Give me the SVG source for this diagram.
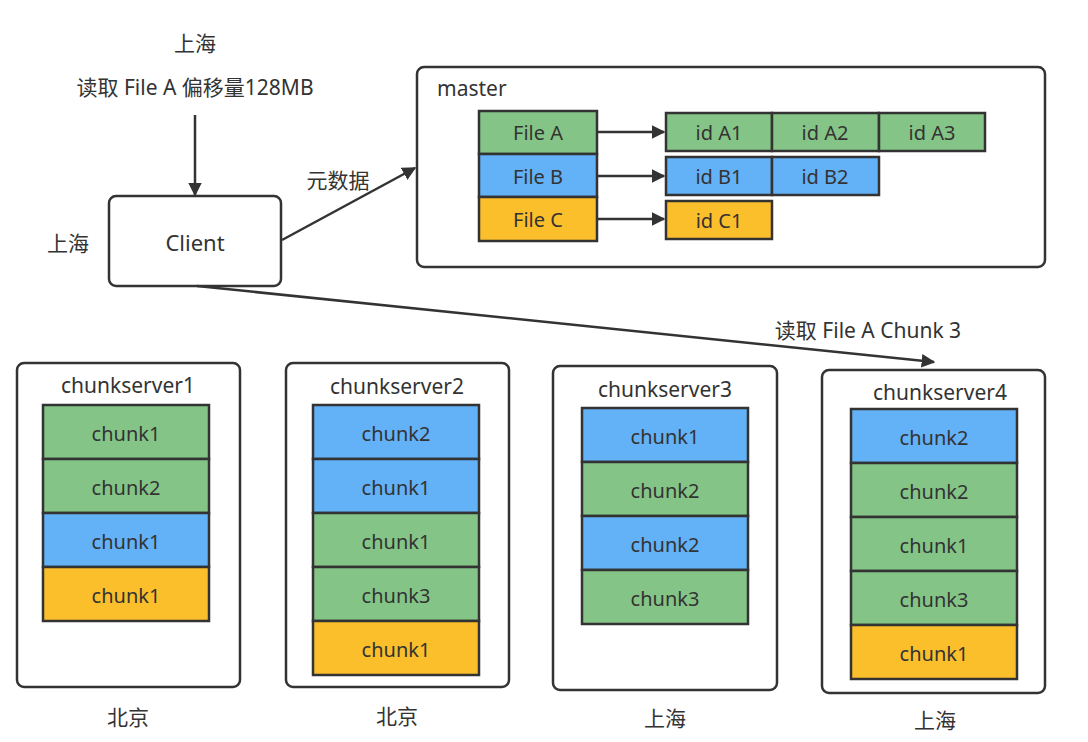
<svg xmlns="http://www.w3.org/2000/svg" width="1088" height="742" viewBox="0 0 1088 742">
<style>
text{font-family:"Noto Sans","Noto Sans CJK SC",sans-serif;fill:#333;font-size:20px;}
.c{text-anchor:middle;dominant-baseline:central;}
.t{font-size:21px;}
.box{fill:#fff;stroke:#333;stroke-width:2.5;}
.g{fill:#84C587;stroke:#333;stroke-width:2.5;}
.b{fill:#63B1F6;stroke:#333;stroke-width:2.5;}
.y{fill:#FBBF2C;stroke:#333;stroke-width:2.5;}
.ln{fill:none;stroke:#333;stroke-width:2.5;}
</style>
<defs>
<marker id="ah" viewBox="0 0 10 10" refX="9" refY="5" markerWidth="5.5" markerHeight="5.5" orient="auto" markerUnits="strokeWidth">
<path d="M0,0 L10,5 L0,10 Z" fill="#333"/>
</marker>
</defs>
<rect width="1088" height="742" fill="#fff"/>

<g id="labels">
<text class="c t" x="195" y="43">上海</text>
<text class="c t" x="195" y="87">读取 File A 偏移量128MB</text>
<text class="c t" x="68" y="243">上海</text>
<text class="c t" x="338" y="180">元数据</text>
<text class="c t" x="868" y="330">读取 File A Chunk 3</text>
</g>

<g id="client">
<rect class="box" x="109" y="196" width="172" height="90" rx="7"/>
<text class="c" x="195" y="242" style="font-size:22px">Client</text>
</g>

<g id="master">
<rect class="box" x="417" y="67" width="628" height="200" rx="7"/>
<text class="t" x="437" y="96">master</text>
<rect class="g" x="479" y="111" width="118" height="43"/>
<text class="c" x="538" y="132">File A</text>
<rect class="b" x="479" y="154" width="118" height="43"/>
<text class="c" x="538" y="176">File B</text>
<rect class="y" x="479" y="197" width="118" height="44"/>
<text class="c" x="538" y="219">File C</text>
<rect class="g" x="666" y="113" width="106" height="38"/>
<text class="c" x="719" y="132">id A1</text>
<rect class="g" x="772" y="113" width="107" height="38"/>
<text class="c" x="825" y="132">id A2</text>
<rect class="g" x="879" y="113" width="106" height="38"/>
<text class="c" x="932" y="132">id A3</text>
<rect class="b" x="666" y="157" width="106" height="38"/>
<text class="c" x="719" y="176">id B1</text>
<rect class="b" x="772" y="157" width="107" height="38"/>
<text class="c" x="825" y="176">id B2</text>
<rect class="y" x="666" y="201" width="106" height="38"/>
<text class="c" x="719" y="220">id C1</text>
</g>

<g id="chunkserver1">
<rect class="box" x="17" y="363" width="223" height="324" rx="7"/>
<text class="c t" x="128" y="385">chunkserver1</text>
<rect class="g" x="43" y="405" width="166" height="54"/><text class="c" x="126" y="433">chunk1</text>
<rect class="g" x="43" y="459" width="166" height="54"/><text class="c" x="126" y="487">chunk2</text>
<rect class="b" x="43" y="513" width="166" height="54"/><text class="c" x="126" y="541">chunk1</text>
<rect class="y" x="43" y="567" width="166" height="54"/><text class="c" x="126" y="595">chunk1</text>
<text class="c t" x="128" y="717">北京</text>
</g>

<g id="chunkserver2">
<rect class="box" x="286" y="363" width="223" height="324" rx="7"/>
<text class="c t" x="397" y="386">chunkserver2</text>
<rect class="b" x="313" y="405" width="166" height="54"/><text class="c" x="396" y="433">chunk2</text>
<rect class="b" x="313" y="459" width="166" height="54"/><text class="c" x="396" y="487">chunk1</text>
<rect class="g" x="313" y="513" width="166" height="54"/><text class="c" x="396" y="541">chunk1</text>
<rect class="g" x="313" y="567" width="166" height="54"/><text class="c" x="396" y="595">chunk3</text>
<rect class="y" x="313" y="621" width="166" height="54"/><text class="c" x="396" y="649">chunk1</text>
<text class="c t" x="397" y="716">北京</text>
</g>

<g id="chunkserver3">
<rect class="box" x="553" y="366" width="224" height="324" rx="7"/>
<text class="c t" x="665" y="389">chunkserver3</text>
<rect class="b" x="582" y="408" width="166" height="54"/><text class="c" x="665" y="436">chunk1</text>
<rect class="g" x="582" y="462" width="166" height="54"/><text class="c" x="665" y="490">chunk2</text>
<rect class="b" x="582" y="516" width="166" height="54"/><text class="c" x="665" y="544">chunk2</text>
<rect class="g" x="582" y="570" width="166" height="54"/><text class="c" x="665" y="598">chunk3</text>
<text class="c t" x="665" y="718">上海</text>
</g>

<g id="chunkserver4">
<rect class="box" x="822" y="370" width="223" height="323" rx="7"/>
<text class="c t" x="940" y="392">chunkserver4</text>
<rect class="b" x="851" y="409" width="166" height="54"/><text class="c" x="934" y="437">chunk2</text>
<rect class="g" x="851" y="463" width="166" height="54"/><text class="c" x="934" y="491">chunk2</text>
<rect class="g" x="851" y="517" width="166" height="54"/><text class="c" x="934" y="545">chunk1</text>
<rect class="g" x="851" y="571" width="166" height="54"/><text class="c" x="934" y="599">chunk3</text>
<rect class="y" x="851" y="625" width="166" height="54"/><text class="c" x="934" y="653">chunk1</text>
<text class="c t" x="935" y="720">上海</text>
</g>

<g id="connectors">
<line class="ln" x1="195" y1="115" x2="195" y2="195" marker-end="url(#ah)"/>
<line class="ln" x1="282" y1="240" x2="415" y2="168" marker-end="url(#ah)"/>
<path class="ln" d="M197,286 Q560,325 934,362" marker-end="url(#ah)"/>
<line class="ln" x1="597" y1="132" x2="664" y2="132" marker-end="url(#ah)"/>
<line class="ln" x1="597" y1="176" x2="664" y2="176" marker-end="url(#ah)"/>
<line class="ln" x1="597" y1="219" x2="664" y2="219" marker-end="url(#ah)"/>
</g>
</svg>
